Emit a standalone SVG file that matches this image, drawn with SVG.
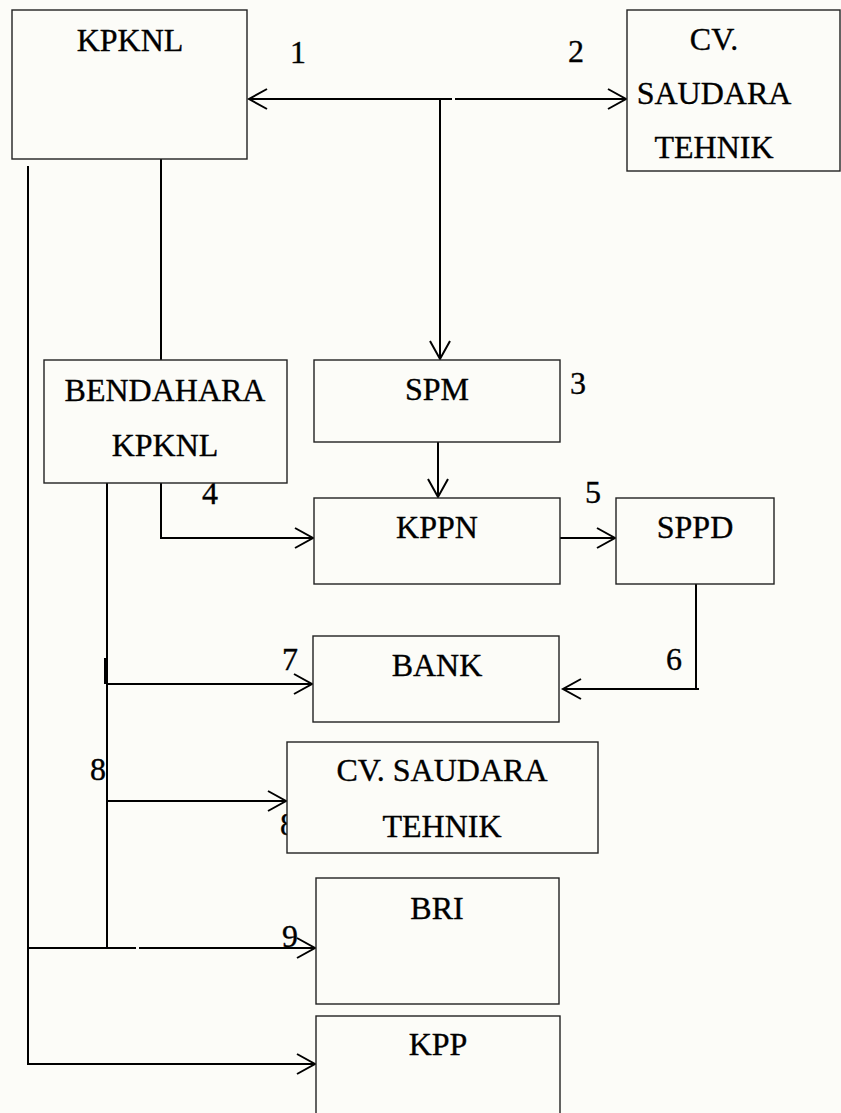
<svg xmlns="http://www.w3.org/2000/svg" width="841" height="1113" viewBox="0 0 841 1113">
<style>
.box{fill:#fcfcf8;stroke:#222;stroke-width:1.4}
.t{font-family:"Liberation Serif","Times New Roman",serif;font-size:32px;fill:#000;stroke:#000;stroke-width:0.35;text-anchor:middle}
.lb{font-family:"Liberation Serif","Times New Roman",serif;font-size:32px;fill:#000;stroke:#000;stroke-width:0.35;text-anchor:middle}
.c{fill:none;stroke:#000;stroke-width:2}
</style>
<defs>
<marker id="arr" viewBox="-20 -12 24 24" refX="0" refY="0" markerWidth="24" markerHeight="24" markerUnits="userSpaceOnUse" orient="auto" overflow="visible">
<path d="M-18,-10 L0,0 L-18,10" fill="none" stroke="#000" stroke-width="2"/>
</marker>
</defs>
<rect x="0" y="0" width="841" height="1113" fill="#fcfcf8"/>
<g id="connectors">
<path class="c" d="M452,99 H249" marker-end="url(#arr)"/>
<path class="c" d="M455,99 H626" marker-end="url(#arr)"/>
<path class="c" d="M440,99 V359" marker-end="url(#arr)"/>
<path class="c" d="M161,159 V360"/>
<path class="c" d="M438,442 V497" marker-end="url(#arr)"/>
<path class="c" d="M161,483 V538 H313" marker-end="url(#arr)"/>
<path class="c" d="M560,538 H615" marker-end="url(#arr)"/>
<path class="c" d="M696,584 V689 M699,689 H563" marker-end="url(#arr)"/>
<path class="c" d="M107,483 V948"/>
<path class="c" d="M105,658 V684"/>
<path class="c" d="M106,684 H312" marker-end="url(#arr)"/>
<path class="c" d="M106,801 H286" marker-end="url(#arr)"/>
<path class="c" d="M28,948 H136 M139,948 H315" marker-end="url(#arr)"/>
<path class="c" d="M28,166 V1064 H315" marker-end="url(#arr)"/>
</g>
<g id="labels">
<text class="lb" x="298" y="63">1</text>
<text class="lb" x="576" y="62">2</text>
<text class="lb" x="578" y="394">3</text>
<text class="lb" x="210" y="504">4</text>
<text class="lb" x="593" y="503">5</text>
<text class="lb" x="674" y="670">6</text>
<text class="lb" x="290" y="670">7</text>
<text class="lb" x="98" y="780">8</text>
<text class="lb" x="288" y="835">8</text>
<text class="lb" x="290" y="947">9</text>
</g>
<g id="kpknl"><rect class="box" x="12" y="10" width="235" height="149"/><text class="t" x="130" y="51">KPKNL</text></g>
<g id="cv-top"><rect class="box" x="627" y="10" width="213" height="161"/><text class="t" x="714" y="50">CV.</text><text class="t" x="714" y="104">SAUDARA</text><text class="t" x="714" y="158">TEHNIK</text></g>
<g id="bendahara"><rect class="box" x="44" y="360" width="243" height="123"/><text class="t" x="165" y="401">BENDAHARA</text><text class="t" x="165" y="456">KPKNL</text></g>
<g id="spm"><rect class="box" x="314" y="360" width="246" height="82"/><text class="t" x="437" y="400">SPM</text></g>
<g id="kppn"><rect class="box" x="314" y="498" width="246" height="86"/><text class="t" x="437" y="538">KPPN</text></g>
<g id="sppd"><rect class="box" x="616" y="498" width="158" height="86"/><text class="t" x="695" y="538">SPPD</text></g>
<g id="bank"><rect class="box" x="313" y="636" width="246" height="86"/><text class="t" x="437" y="676">BANK</text></g>
<g id="cv-bottom"><rect class="box" x="287" y="742" width="311" height="111"/><text class="t" x="442" y="781">CV. SAUDARA</text><text class="t" x="442" y="837">TEHNIK</text></g>
<g id="bri"><rect class="box" x="316" y="878" width="243" height="126"/><text class="t" x="437" y="919">BRI</text></g>
<g id="kpp"><rect class="box" x="316" y="1016" width="244" height="110"/><text class="t" x="438" y="1055">KPP</text></g>
</svg>
